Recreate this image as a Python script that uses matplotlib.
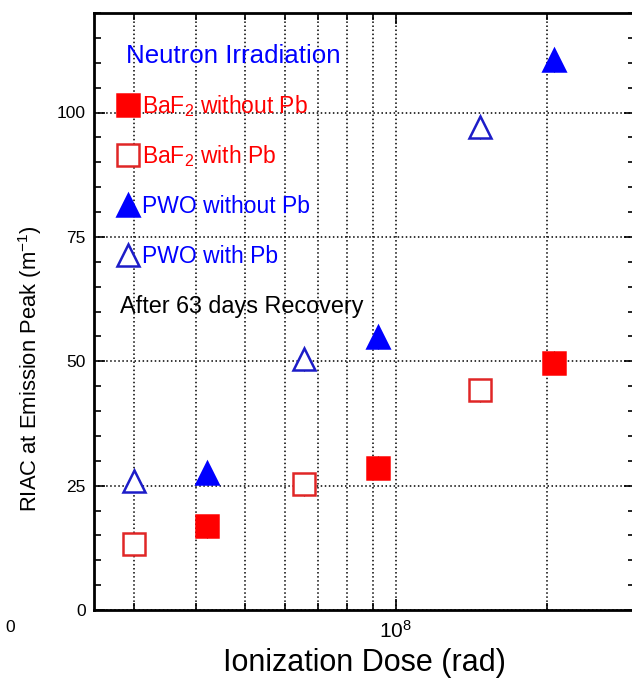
import matplotlib
matplotlib.use("Agg")
from matplotlib import pyplot as plt
import matplotlib.ticker as mticker
import numpy as np

plt.rcParams['font.family'] = ['Liberation Sans', 'DejaVu Sans']
plt.rcParams['mathtext.fontset'] = 'custom'
plt.rcParams['mathtext.rm'] = 'Liberation Sans'
plt.rcParams['mathtext.it'] = 'Liberation Sans:italic'

# dose (rad) and RIAC (m^-1)
dose_with_pb = [3.0e7, 6.55e7, 1.47e8]
dose_without_pb = [4.2e7, 9.2e7, 2.07e8]
baf2_with_pb = [13.2, 25.3, 44.2]
baf2_without_pb = [16.8, 28.6, 49.7]
pwo_with_pb = [26.0, 50.4, 97.0]
pwo_without_pb = [27.6, 54.8, 110.5]
err = 2.3

labels = ['BaF$_2$ without Pb', 'BaF$_2$ with Pb', 'PWO without Pb', 'PWO with Pb']

red = '#ff0000'
red_open = '#e02626'
blue = '#0000ff'
blue_open = '#1c1cc8'

fig = plt.figure(figsize=(6.32, 6.79), dpi=100)
ax = fig.add_axes([94/632, 69/679, 541/632, 597/679])

ms = 16
series = [
    (dose_without_pb, baf2_without_pb, 's', red, red, red),
    (dose_with_pb, baf2_with_pb, 's', 'white', red_open, red),
    (dose_without_pb, pwo_without_pb, '^', blue, blue, blue),
    (dose_with_pb, pwo_with_pb, '^', 'white', blue_open, blue),
]
for x, y, m, fc, ec, tc in series:
    ax.errorbar(x, y, yerr=err, fmt='none', ecolor='black', elinewidth=0.8, zorder=2)
    ax.plot(x, y, m, ms=ms, mfc=fc, mec=ec, mew=1.8, ls='none', zorder=3)

ax.set_xscale('log')
ax.set_xlim(2.5e7, 3e8)
ax.set_ylim(0, 120)
ax.set_yticks([0, 25, 50, 75, 100])
ax.yaxis.set_minor_locator(mticker.MultipleLocator(5))
ax.xaxis.set_major_locator(mticker.LogLocator(base=10))
ax.xaxis.set_major_formatter(mticker.FuncFormatter(
    lambda v, p: r'$\mathdefault{10^{%d}}$' % round(np.log10(v))))
ax.xaxis.set_minor_locator(mticker.LogLocator(base=10, subs=np.arange(2, 10)))
ax.xaxis.set_minor_formatter(mticker.NullFormatter())

ax.tick_params(which='both', direction='in', top=True, right=True, width=1.2)
ax.tick_params(axis='y', labelsize=12.5, pad=6)
ax.tick_params(axis='x', labelsize=15, pad=7)
ax.tick_params(which='major', length=8)
ax.tick_params(which='minor', length=5)
for s in ax.spines.values():
    s.set_linewidth(2)

ax.grid(True, which='major', axis='y', ls=':', color='black', lw=1.1)
ax.grid(True, which='both', axis='x', ls=':', color='black', lw=1.1)

ax.set_xlabel('Ionization Dose (rad)', fontsize=22)
ax.set_ylabel('RIAC at Emission Peak (m$^{-1}$)', fontsize=15.8)
ax.yaxis.set_label_coords(-0.093, 0.405)
ax.xaxis.set_label_coords(0.5, -0.064)

# in-plot legend
ax.text(0.059, 0.916, 'Neutron Irradiation', color=blue, fontsize=18.6,
        transform=ax.transAxes, va='baseline')
rows = [0.846, 0.762, 0.678, 0.595]
for (x, y, m, fc, ec, tc), lab, ry in zip(series, labels, rows):
    ax.plot([0.063], [ry], m, ms=ms, mfc=fc, mec=ec, mew=1.8,
            transform=ax.transAxes, clip_on=False)
    ax.text(0.0887, ry - 0.0134, lab, color=tc, fontsize=16.5,
            transform=ax.transAxes, va='baseline')
ax.text(0.048, 0.497, 'After 63 days Recovery', color='black', fontsize=16.8,
        transform=ax.transAxes, va='baseline')

fig.text(5/632, 1 - 628/679, '0', fontsize=12.5, va='center')

fig.savefig('out.png', dpi=100)
